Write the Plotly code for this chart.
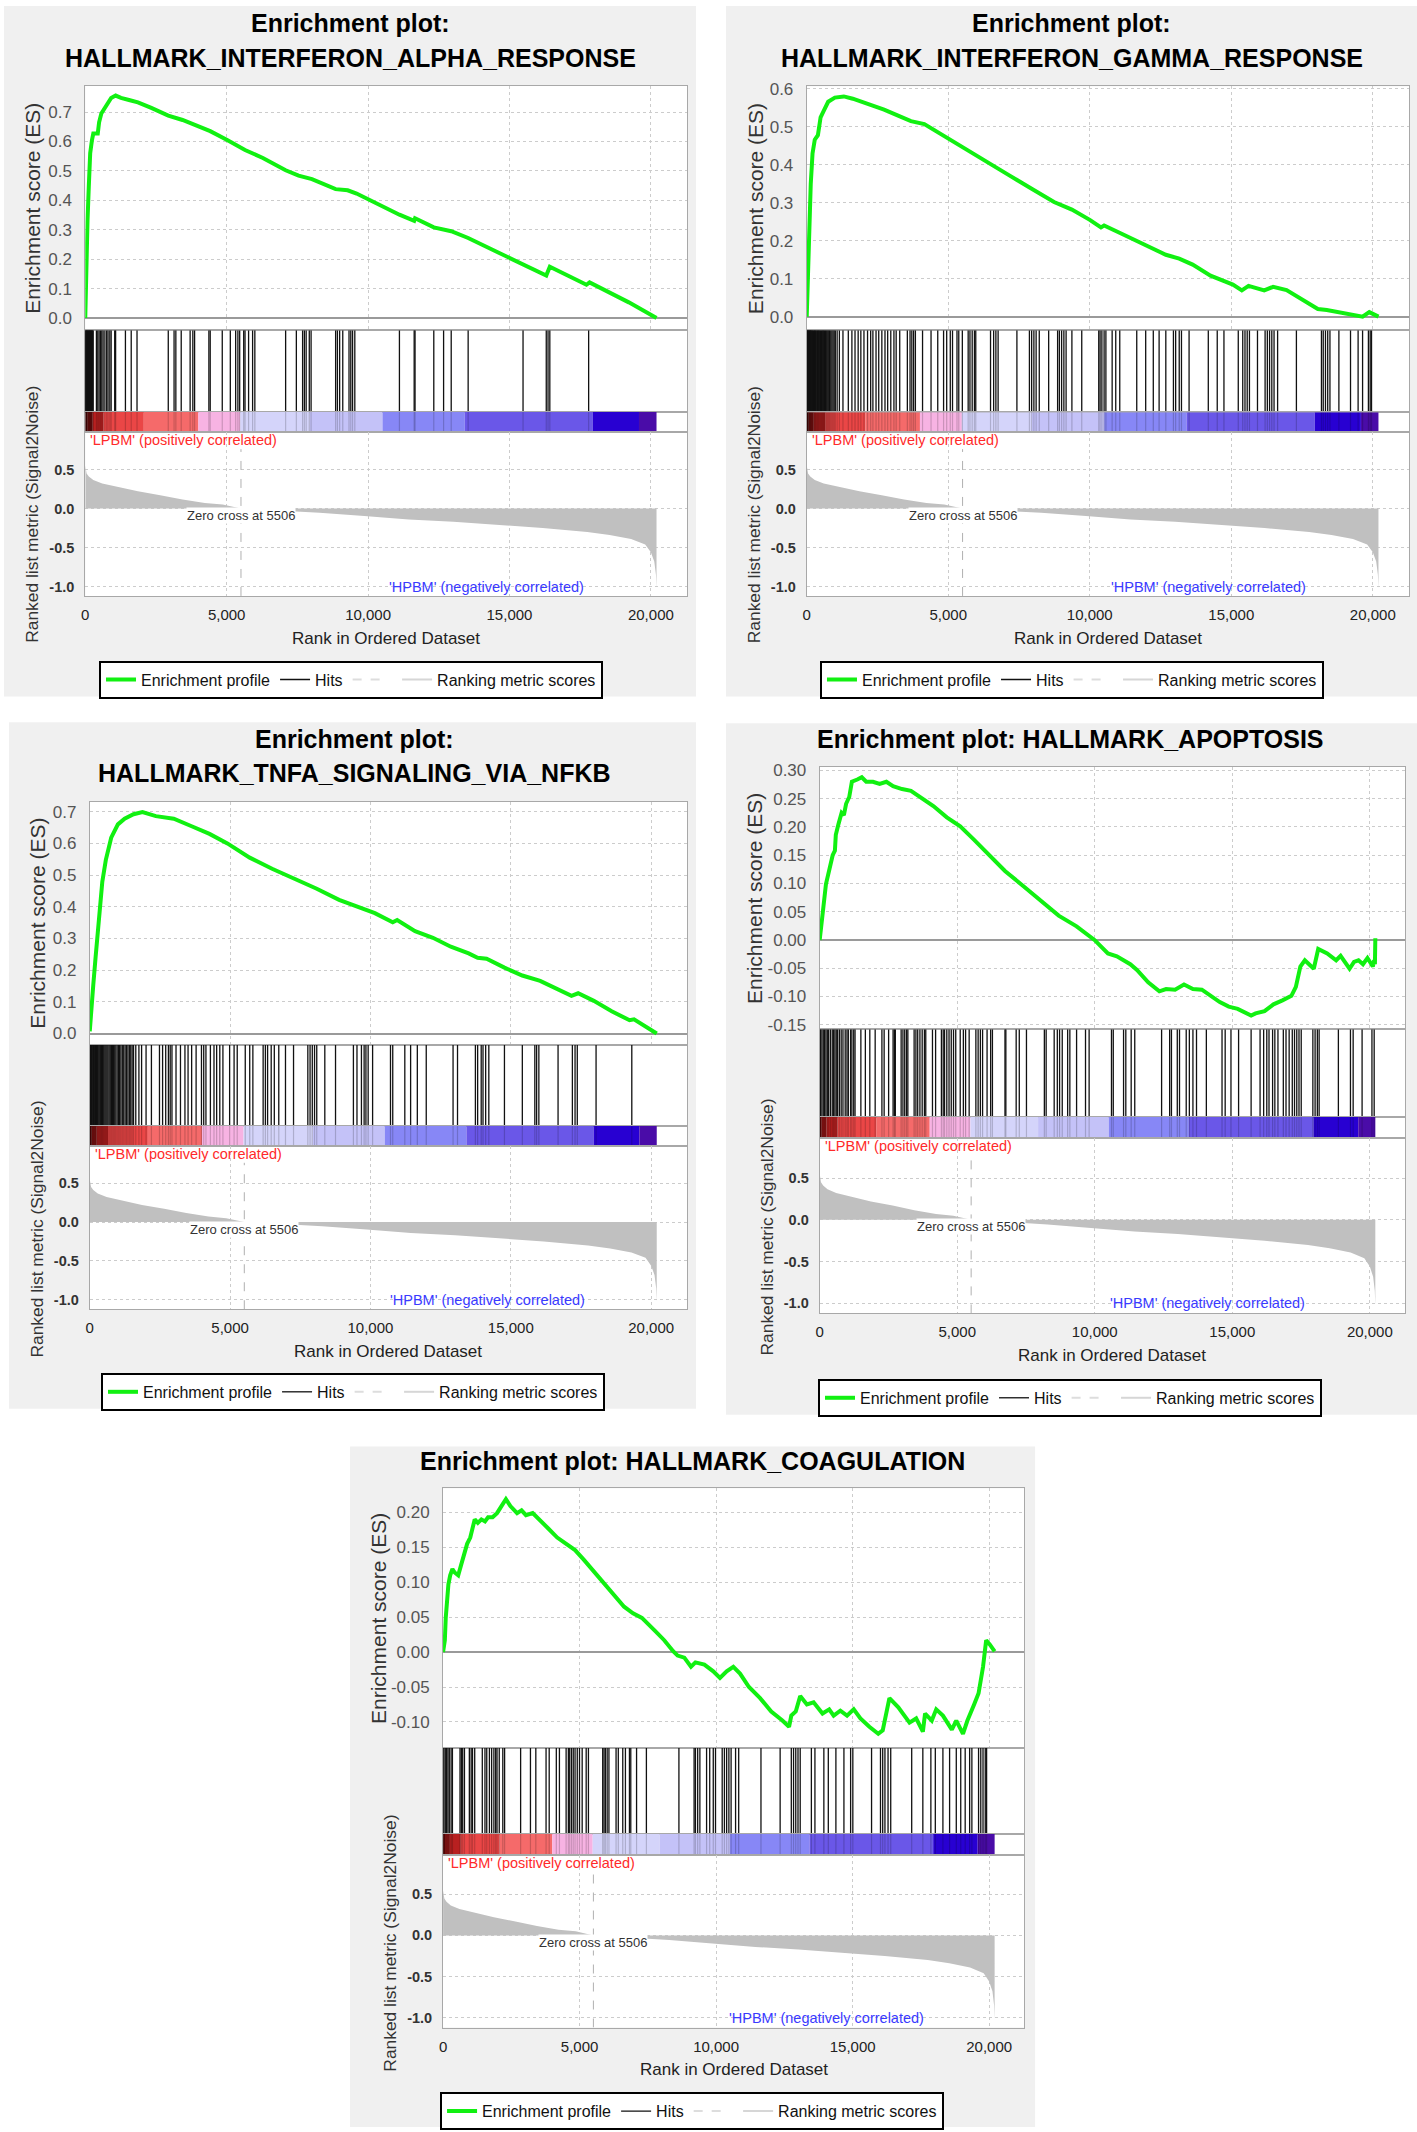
import plotly.graph_objects as go

W, H = 1417, 2132
FONT = "Liberation Sans, Arial, sans-serif"

# ---------------- data ----------------
N_GENES = 20200
ZERO_CROSS = 5506
X_TICKS = [0, 5000, 10000, 15000, 20000]

metric_rank = [0, 47, 126, 284, 600, 1073, 1862, 2651, 3440, 4229, 4860, 5506, 7432, 8284,
               9862, 11440, 13018, 14596, 16174, 17752, 18541, 19300, 19800, 20000, 20120,
               20180, 20200]
metric_value = [0.55, 0.45, 0.41, 0.365, 0.32, 0.28, 0.22, 0.17, 0.115, 0.07, 0.05, 0.0, -0.035,
                -0.055, -0.097, -0.14, -0.17, -0.21, -0.25, -0.30, -0.34, -0.39, -0.46, -0.56,
                -0.68, -0.85, -1.02]

cbar_edges = [0, 70, 250, 650, 2070, 4000, 5480, 7940, 10510, 13420, 17950, 19580, 20200]
cbar_colors = ["#5a0808", "#8c1414", "#b82020", "#ea4646", "#f56a6a", "#f7b3e3", "#d4d4fa",
               "#c4c2f8", "#8787f6", "#6a57e8", "#2800d2", "#4a0ca8"]

titles = [
    ["Enrichment plot:", "HALLMARK_INTERFERON_ALPHA_RESPONSE"],
    ["Enrichment plot:", "HALLMARK_INTERFERON_GAMMA_RESPONSE"],
    ["Enrichment plot:", "HALLMARK_TNFA_SIGNALING_VIA_NFKB"],
    ["Enrichment plot: HALLMARK_APOPTOSIS"],
    ["Enrichment plot: HALLMARK_COAGULATION"],
]

es_rank_1 = [0, 16, 47, 79, 126, 174, 237, 284, 442, 489, 568, 678, 789, 915, 1073, 1262, 1546,
             1862, 2335, 2935, 3440, 3913, 4418, 5018, 5649, 6280, 7085, 7543, 8016, 8853, 9279,
             9594, 10225, 11109, 11630, 11661, 12324, 12671, 12940, 13539, 14486, 15480, 16301,
             16427, 17011, 17721, 17832, 19220, 20200]
es_value_1 = [0.0, 0.09, 0.21, 0.33, 0.45, 0.56, 0.605, 0.627, 0.627, 0.665, 0.695, 0.714, 0.733,
              0.748, 0.756, 0.748, 0.741, 0.733, 0.714, 0.688, 0.673, 0.656, 0.635, 0.605, 0.571,
              0.544, 0.502, 0.484, 0.472, 0.438, 0.434, 0.423, 0.393, 0.351, 0.33, 0.339, 0.308,
              0.299, 0.295, 0.272, 0.227, 0.181, 0.144, 0.174, 0.148, 0.113, 0.121, 0.053, 0.0]

es_rank_2 = [0, 47, 95, 142, 205, 284, 395, 490, 600, 758, 995, 1311, 1627, 2101, 2733, 3207,
             3681, 4155, 4787, 5577, 6367, 7157, 7947, 8737, 9369, 10001, 10396, 10507, 11107,
             11897, 12687, 13161, 13635, 14267, 15057, 15373, 15610, 16163, 16479, 16953, 17427,
             18059, 18375, 18849, 19323, 19639, 19876, 20034, 20200]
es_value_2 = [0.0, 0.114, 0.255, 0.35, 0.43, 0.466, 0.478, 0.525, 0.542, 0.566, 0.577, 0.58,
              0.574, 0.562, 0.545, 0.53, 0.515, 0.507, 0.478, 0.442, 0.407, 0.372, 0.337, 0.302,
              0.282, 0.255, 0.235, 0.24, 0.219, 0.19, 0.163, 0.153, 0.137, 0.108, 0.0845, 0.069,
              0.081, 0.069, 0.0786, 0.07, 0.049, 0.02, 0.0176, 0.0106, 0.002, 0.0, 0.012, 0.005,
              0.0]

es_rank_3 = [0, 48, 127, 207, 287, 366, 446, 573, 764, 1003, 1242, 1560, 1879, 2356, 2993, 3630,
             4266, 4903, 5699, 6495, 7291, 8087, 8883, 9679, 10157, 10794, 10952, 11590, 12226,
             12863, 13500, 13818, 14137, 14774, 15410, 16047, 16684, 17162, 17400, 17958, 18595,
             19231, 19390, 19868, 20200]
es_value_3 = [0.007, 0.084, 0.155, 0.24, 0.323, 0.41, 0.478, 0.548, 0.618, 0.66, 0.678, 0.692,
              0.699, 0.686, 0.678, 0.654, 0.63, 0.6, 0.555, 0.52, 0.489, 0.457, 0.422, 0.394,
              0.38, 0.351, 0.358, 0.323, 0.302, 0.274, 0.253, 0.239, 0.236, 0.208, 0.183, 0.166,
              0.141, 0.119, 0.127, 0.103, 0.07, 0.042, 0.045, 0.017, 0.0]

es_rank_4 = [0, 65, 146, 228, 358, 472, 553, 586, 683, 797, 879, 960, 1074, 1171, 1367, 1529,
             1692, 1936, 2180, 2424, 2668, 2994, 3319, 3644, 4133, 4621, 5109, 5597, 6085, 6736,
             7387, 8037, 8688, 9339, 9990, 10478, 10803, 11291, 11535, 11942, 12349, 12593, 12918,
             13244, 13569, 13894, 14220, 14545, 14871, 15196, 15684, 15847, 16172, 16498, 16823,
             17149, 17311, 17474, 17637, 17962, 18124, 18450, 18775, 18938, 19263, 19426, 19589,
             19751, 19914, 20109, 20158, 20185, 20200]
es_value_4 = [0.0, 0.028, 0.063, 0.099, 0.126, 0.15, 0.158, 0.186, 0.205, 0.225, 0.221, 0.241,
              0.253, 0.28, 0.284, 0.288, 0.28, 0.28, 0.276, 0.28, 0.272, 0.267, 0.264, 0.253,
              0.237, 0.217, 0.201, 0.178, 0.154, 0.122, 0.096, 0.069, 0.043, 0.024, 0.0, -0.024,
              -0.029, -0.043, -0.053, -0.075, -0.091, -0.087, -0.088, -0.079, -0.087, -0.088,
              -0.099, -0.11, -0.118, -0.122, -0.134, -0.13, -0.126, -0.114, -0.107, -0.099,
              -0.083, -0.047, -0.036, -0.051, -0.016, -0.024, -0.036, -0.028, -0.051, -0.039,
              -0.036, -0.043, -0.032, -0.047, -0.036, -0.043, 0.003]

es_rank_5 = [0, 65, 98, 147, 196, 261, 343, 425, 555, 670, 751, 882, 996, 1078, 1159, 1274, 1404,
             1535, 1649, 1813, 1976, 2139, 2302, 2466, 2711, 2874, 3037, 3282, 3527, 3854, 4181,
             4507, 4834, 5160, 5650, 6140, 6630, 6957, 7283, 7773, 8100, 8427, 8590, 8835, 9080,
             9243, 9570, 9896, 10141, 10386, 10631, 10876, 11203, 11611, 12019, 12427, 12672,
             12754, 12917, 13080, 13325, 13570, 13897, 14142, 14305, 14550, 14795, 15040, 15285,
             15612, 15938, 16102, 16347, 16673, 17082, 17327, 17572, 17653, 17898, 18061, 18306,
             18633, 18796, 19041, 19204, 19449, 19612, 19776, 19890, 20021, 20200]
es_value_5 = [0.0, 0.017, 0.049, 0.075, 0.097, 0.11, 0.119, 0.114, 0.11, 0.126, 0.139, 0.155,
              0.164, 0.18, 0.19, 0.185, 0.19, 0.187, 0.193, 0.193, 0.199, 0.209, 0.219, 0.209,
              0.199, 0.203, 0.196, 0.199, 0.19, 0.177, 0.164, 0.155, 0.146, 0.132, 0.11, 0.0875,
              0.065, 0.0556, 0.049, 0.03, 0.017, 0.0013, -0.005, -0.008, -0.021, -0.0147, -0.018,
              -0.0275, -0.037, -0.0275, -0.021, -0.0307, -0.05, -0.066, -0.085, -0.098, -0.107,
              -0.091, -0.085, -0.063, -0.075, -0.072, -0.088, -0.082, -0.091, -0.084, -0.091,
              -0.082, -0.095, -0.107, -0.117, -0.112, -0.066, -0.079, -0.101, -0.095, -0.114,
              -0.088, -0.098, -0.082, -0.091, -0.111, -0.098, -0.117, -0.098, -0.075, -0.059,
              -0.021, 0.017, 0.011, 0.001]

hits_1 = [0, 15, 30, 45, 60, 80, 95, 110, 130, 150, 160, 175, 190, 210, 225, 240, 260, 280, 394,
          442, 489, 537, 584, 631, 694, 757, 805, 868, 915, 1041, 1073, 1420, 1625, 1830, 2935,
          3140, 3203, 3393, 3708, 3803, 3866, 4371, 4418, 4844, 5129, 5318, 5397, 5460, 5602,
          5649, 5775, 5917, 5996, 7085, 7464, 7685, 7748, 7811, 7921, 7985, 8853, 8916, 8995,
          9105, 9326, 9389, 9452, 9531, 11109, 11630, 11661, 12324, 12671, 12940, 13539, 15480,
          16301, 16364, 16427, 17800]

hits_2 = [0, 15, 30, 45, 60, 75, 95, 110, 125, 140, 160, 180, 200, 220, 245, 270, 290, 310, 335,
          360, 385, 410, 435, 460, 490, 520, 550, 575, 600, 630, 660, 690, 720, 750, 780, 810,
          850, 890, 930, 970, 1010, 1074, 1153, 1280, 1469, 1596, 1706, 1817, 1912, 2022, 2149,
          2259, 2338, 2449, 2544, 2654, 2765, 2860, 2970, 3081, 3160, 3286, 3555, 3650, 3713,
          3776, 3839, 4092, 4392, 4629, 4835, 4945, 5072, 5151, 5309, 5372, 5498, 5704, 5767,
          5846, 5925, 5972, 6494, 6604, 6683, 6762, 7426, 7868, 7947, 8026, 8105, 8216, 8548,
          8864, 8927, 9006, 9085, 9164, 9369, 9717, 10317, 10365, 10428, 10507, 10570, 10791,
          10918, 11060, 11660, 11976, 12245, 12450, 12687, 12956, 13035, 13161, 13240, 13509,
          14188, 14504, 14741, 15247, 15405, 15484, 15563, 15642, 15926, 16195, 16274, 16353,
          16432, 16511, 16637, 17301, 18186, 18249, 18328, 18407, 18486, 18802, 19213, 19481,
          19639, 19845, 19908, 19955]

hits_3 = [0, 20, 40, 60, 85, 110, 135, 160, 185, 210, 240, 270, 300, 330, 360, 390, 420, 450,
          480, 510, 545, 580, 615, 650, 690, 730, 770, 810, 850, 890, 930, 975, 1020, 1065, 1110,
          1160, 1210, 1260, 1310, 1360, 1410, 1460, 1510, 1560, 1640, 1751, 1847, 2006, 2197,
          2484, 2595, 2706, 2802, 2866, 2929, 3073, 3232, 3391, 3502, 3630, 3789, 3980, 4060,
          4139, 4298, 4426, 4521, 4633, 4744, 4983, 5142, 5254, 5540, 5699, 5811, 6177, 6257,
          6336, 6464, 6575, 6734, 6973, 7260, 7769, 7849, 7928, 8008, 8087, 8374, 8756, 9393,
          9520, 9679, 9775, 9839, 9918, 10077, 10714, 10794, 11224, 11431, 11670, 11988, 12943,
          13102, 13739, 13819, 13946, 14010, 14105, 14217, 14774, 15411, 15856, 15920, 16000,
          16684, 17194, 17289, 17369, 18038, 19311]

hits_4 = [0, 33, 81, 130, 179, 228, 277, 325, 390, 456, 504, 553, 602, 651, 716, 781, 846, 927,
          992, 1041, 1123, 1171, 1237, 1285, 1497, 1660, 1822, 2017, 2262, 2343, 2506, 2668,
          2717, 2750, 2961, 3026, 3091, 3156, 3205, 3433, 3498, 3563, 3644, 3726, 3807, 3856,
          4100, 4214, 4425, 4490, 4539, 4621, 4702, 4783, 4865, 4946, 5109, 5223, 5304, 5434,
          5678, 5760, 5841, 5922, 6085, 6215, 6280, 6736, 6768, 7143, 7256, 7517, 8168, 8233,
          8525, 8639, 8721, 8818, 9014, 9095, 9339, 9664, 9795, 10608, 10673, 11047, 11129,
          11324, 11454, 12430, 12723, 12788, 13000, 13081, 13325, 13439, 13569, 13699, 14057,
          14627, 14741, 14952, 15229, 15684, 16010, 16140, 16254, 16335, 16465, 16547, 16660,
          16855, 16953, 17067, 17181, 17262, 17344, 17425, 17506, 17929, 18010, 18092, 18157,
          18857, 19296, 19394, 19719, 20077, 20158]

hits_5 = [0, 33, 82, 131, 180, 229, 294, 343, 621, 670, 719, 784, 963, 1029, 1078, 1159, 1437,
          1535, 1600, 1698, 1780, 1862, 1927, 1976, 2058, 2188, 2254, 2841, 3201, 3397, 3772,
          3887, 4148, 4262, 4507, 4589, 4638, 4703, 4768, 4834, 4915, 4997, 5095, 5242, 5324,
          5846, 5895, 5944, 6010, 6075, 6336, 6418, 6581, 6679, 6826, 6875, 7087, 7447, 8638,
          9194, 9243, 9325, 9406, 9651, 9766, 9896, 9978, 10223, 10304, 10386, 10468, 10549,
          10713, 10827, 11643, 12345, 12754, 12836, 12917, 12999, 13080, 13489, 13619, 13946,
          14109, 14387, 14681, 14926, 15007, 15693, 16020, 16101, 16183, 16297, 16395, 17163,
          17571, 17865, 18028, 18306, 18551, 18796, 18959, 19122, 19285, 19367, 19612, 19693,
          19775, 19857, 19906]

es_ticks = [
    [0.0, 0.1, 0.2, 0.3, 0.4, 0.5, 0.6, 0.7],
    [0.0, 0.1, 0.2, 0.3, 0.4, 0.5, 0.6],
    [0.0, 0.1, 0.2, 0.3, 0.4, 0.5, 0.6, 0.7],
    [-0.15, -0.10, -0.05, 0.00, 0.05, 0.10, 0.15, 0.20, 0.25, 0.30],
    [-0.10, -0.05, 0.00, 0.05, 0.10, 0.15, 0.20],
]
metric_ticks = [-1.0, -0.5, 0.0, 0.5]

es_ranks = [es_rank_1, es_rank_2, es_rank_3, es_rank_4, es_rank_5]
es_values = [es_value_1, es_value_2, es_value_3, es_value_4, es_value_5]
hits = [hits_1, hits_2, hits_3, hits_4, hits_5]

# ---------------- layout geometry (pixels) ----------------
panels = [
    dict(bg=(0, 0, 694, 694), px=(81.5, 685), es=(80, 326), hit=408, cb=428.6, mb=593,
         es_range=(-0.042, 0.79), fmt="{:.1f}", title_x=347, title_y=[17, 52],
         leg=(348, 658), esl_x=29, rkl_y=511),
    dict(bg=(724, 0, 1417, 694), px=(805, 1409), es=(80.6, 326), hit=408.4, cb=428.6, mb=593,
         es_range=(-0.036, 0.607), fmt="{:.1f}", title_x=1071, title_y=[17, 52],
         leg=(1071, 658), esl_x=753, rkl_y=511),
    dict(bg=(5, 720, 694, 1410), px=(86, 685), es=(800, 1044), hit=1125.7, cb=1146, mb=1310,
         es_range=(-0.035, 0.731), fmt="{:.1f}", title_x=351, title_y=[737, 771],
         leg=(350, 1374), esl_x=33.6, rkl_y=1229),
    dict(bg=(724, 721, 1417, 1416), px=(818, 1405), es=(765, 1028.5), hit=1116.7, cb=1138.2,
         mb=1314.2, es_range=(-0.158, 0.306), fmt="{:.2f}", title_x=1070, title_y=[737],
         leg=(1069, 1380), esl_x=752, rkl_y=1227),
    dict(bg=(347, 1448, 1034, 2132), px=(440.3, 1023), es=(1490, 1750.8), hit=1837.3,
         cb=1858.8, mb=2032, es_range=(-0.137, 0.2345), fmt="{:.2f}", title_x=690,
         title_y=[1463], leg=(690, 2097), esl_x=375, rkl_y=1947.5),
]

X_RANGE = [0, 21280]
METRIC_RANGE = [-1.12, 0.975]


def fx(px):
    return px / W


def fy(py):
    return 1 - py / H


fig = go.Figure()
layout = dict(
    width=W, height=H, margin=dict(l=0, r=0, t=0, b=0),
    paper_bgcolor="white", plot_bgcolor="white",
    font=dict(family=FONT, color="#222"),
    barmode="overlay", shapes=[], annotations=[], hovermode=False,
)

cb_centers = [(a + b) / 2 for a, b in zip(cbar_edges[:-1], cbar_edges[1:])]
cb_widths = [b - a for a, b in zip(cbar_edges[:-1], cbar_edges[1:])]

frame = dict(showline=True, mirror=True, linecolor="#a8a8a8", linewidth=1, zeroline=False)
grid = dict(showgrid=True, gridcolor="#cccccc", griddash="dot", gridwidth=1)

for k, p in enumerate(panels):
    # gray panel background + white plotting area
    x0, y0, x1, y1 = p["bg"]
    layout["shapes"].append(dict(type="rect", xref="paper", yref="paper", x0=fx(x0), x1=fx(x1),
                                 y0=fy(y1), y1=fy(y0), fillcolor="#f0f0f0",
                                 line=dict(width=0), layer="below"))
    layout["shapes"].append(dict(type="rect", xref="paper", yref="paper", x0=fx(p["px"][0]),
                                 x1=fx(p["px"][1]), y0=fy(p["mb"]), y1=fy(p["es"][0]),
                                 fillcolor="white", line=dict(width=0), layer="below"))
    dom_x = [fx(p["px"][0]), fx(p["px"][1])]
    bands = [(p["es"][0], p["es"][1]), (p["es"][1], p["hit"]), (p["hit"], p["cb"]),
             (p["cb"], p["mb"])]
    ids = [k * 4 + j + 1 for j in range(4)]
    names = [("x" if i == 1 else f"x{i}", "y" if i == 1 else f"y{i}") for i in ids]
    for j, (i, (top, bot)) in enumerate(zip(ids, bands)):
        xa = dict(domain=dom_x, anchor=names[j][1], range=X_RANGE, tickvals=X_TICKS, **frame)
        ya = dict(domain=[fy(bot), fy(top)], anchor=names[j][0], **frame)
        if j == 0:
            xa.update(grid, showticklabels=False, ticks="")
            ya.update(grid, range=list(p["es_range"]), tickvals=es_ticks[k],
                      ticktext=[p["fmt"].format(v) for v in es_ticks[k]], ticks="",
                      ticklabelstandoff=9,
                      tickfont=dict(size=17, color="#555", family=FONT),
                      zeroline=True, zerolinecolor="#9a9a9a", zerolinewidth=1.5)
        elif j in (1, 2):
            xa.update(showgrid=False, showticklabels=False, ticks="")
            ya.update(showgrid=False, showticklabels=False, ticks="", range=[0, 1])
        else:
            xa.update(grid, ticktext=[f"{v:,d}" for v in X_TICKS], ticks="",
                      ticklabelstandoff=5,
                      tickfont=dict(size=15, color="#222", family=FONT))
            ya.update(grid, range=METRIC_RANGE, tickvals=metric_ticks,
                      ticktext=[f"{v:.1f}" for v in metric_ticks], ticks="",
                      ticklabelstandoff=7,
                      tickfont=dict(size=14.5, color="#333", family=FONT, weight="bold"))
        layout["xaxis" if i == 1 else f"xaxis{i}"] = xa
        layout["yaxis" if i == 1 else f"yaxis{i}"] = ya

    leg = "legend" if k == 0 else f"legend{k + 1}"
    layout[leg] = dict(orientation="h", x=fx(p["leg"][0]), xanchor="center",
                       y=fy(p["leg"][1]), yanchor="top", bgcolor="white",
                       bordercolor="black", borderwidth=2, tracegroupgap=0,
                       font=dict(size=16, color="#111", family=FONT), itemwidth=30)

    xe, ye = names[0]
    xh, yh = names[1]
    xc, yc = names[2]
    xm, ym = names[3]

    # enrichment profile
    fig.add_trace(go.Scatter(x=es_ranks[k], y=es_values[k], mode="lines", name="Enrichment profile",
                             line=dict(color="#11f011", width=4), xaxis=xe, yaxis=ye,
                             legend=leg, showlegend=True))
    # hits
    hx, hy = [], []
    for h in hits[k]:
        hx += [h, h, None]
        hy += [0, 1, None]
    fig.add_trace(go.Scatter(x=hx, y=hy, mode="lines", name="Hits",
                             line=dict(color="#111111", width=1.3), xaxis=xh, yaxis=yh,
                             legend=leg, showlegend=True))
    # blank dashed legend sample
    fig.add_trace(go.Scatter(x=[None], y=[None], mode="lines", name=" ",
                             line=dict(color="#dddddd", width=2, dash="dash"), xaxis=xe,
                             yaxis=ye, legend=leg, showlegend=True))
    fig.add_trace(go.Scatter(x=[None], y=[None], mode="lines", name="Ranking metric scores",
                             line=dict(color="#d6d6d6", width=2), xaxis=xm, yaxis=ym,
                             legend=leg, showlegend=True))
    # color bar
    fig.add_trace(go.Bar(x=cb_centers, y=[1] * len(cb_centers), width=cb_widths, base=0,
                         marker=dict(color=cbar_colors, line=dict(width=0)), xaxis=xc,
                         yaxis=yc, showlegend=False))
    fig.add_trace(go.Scatter(x=hx, y=hy, mode="lines", line=dict(color="rgba(0,0,0,0.18)",
                             width=1.2), xaxis=xc, yaxis=yc, showlegend=False))
    # ranked metric
    fig.add_trace(go.Scatter(x=metric_rank, y=metric_value, mode="lines", fill="tozeroy",
                             fillcolor="#c0c0c0", line=dict(width=0, color="#c0c0c0"),
                             xaxis=xm, yaxis=ym, showlegend=False))
    # zero cross dashed line
    layout["shapes"].append(dict(type="line", xref=xm, yref=ym, x0=ZERO_CROSS, x1=ZERO_CROSS,
                                 y0=METRIC_RANGE[0], y1=0.76,
                                 line=dict(color="#b0b0b0", width=1, dash="dash")))

    ann = layout["annotations"]
    ann.append(dict(xref=xm, yref=ym, x=ZERO_CROSS, y=0, yshift=-7, showarrow=False,
                    text="Zero cross at 5506", bgcolor="white", borderpad=0,
                    font=dict(size=13, color="#333", family=FONT)))
    ann.append(dict(xref=xm + " domain", yref=ym + " domain", x=0.005, y=1, xanchor="left",
                    yanchor="top", yshift=2, showarrow=False,
                    text="'LPBM' (positively correlated)",
                    font=dict(size=14.5, color="#ff2a2a", family=FONT)))
    ann.append(dict(xref=xm, yref=ym, x=17700, y=-1.0, xanchor="right", yanchor="middle",
                    showarrow=False, text="'HPBM' (negatively correlated)",
                    font=dict(size=14.5, color="#3a3aff", family=FONT)))
    # titles
    for t, ty in zip(titles[k], p["title_y"]):
        ann.append(dict(xref="paper", yref="paper", x=fx(p["title_x"]), y=fy(ty),
                        xanchor="center", yanchor="middle", showarrow=False,
                        text=f"<b>{t}</b>", font=dict(size=25, color="black", family=FONT)))
    # axis titles
    ann.append(dict(xref="paper", yref="paper", x=fx(p["esl_x"]),
                    y=fy((p["es"][0] + p["es"][1]) / 2), textangle=-90, showarrow=False,
                    xanchor="center", yanchor="middle", text="Enrichment score (ES)",
                    font=dict(size=21, color="#333", family=FONT)))
    ann.append(dict(xref="paper", yref="paper", x=fx(p["px"][0] - 53), y=fy(p["rkl_y"]),
                    textangle=-90, showarrow=False, xanchor="center", yanchor="middle",
                    text="Ranked list metric (Signal2Noise)",
                    font=dict(size=17.4, color="#333", family=FONT)))
    ann.append(dict(xref="paper", yref="paper", x=fx((p["px"][0] + p["px"][1]) / 2),
                    y=fy(p["mb"] + 42.5), showarrow=False, xanchor="center", yanchor="middle",
                    text="Rank in Ordered Dataset", font=dict(size=17, color="#222", family=FONT)))

fig.update_layout(**layout)
fig.write_html("out.html", config={"displayModeBar": False},
               post_script="document.body.style.margin='0';document.body.style.overflow='hidden';")
